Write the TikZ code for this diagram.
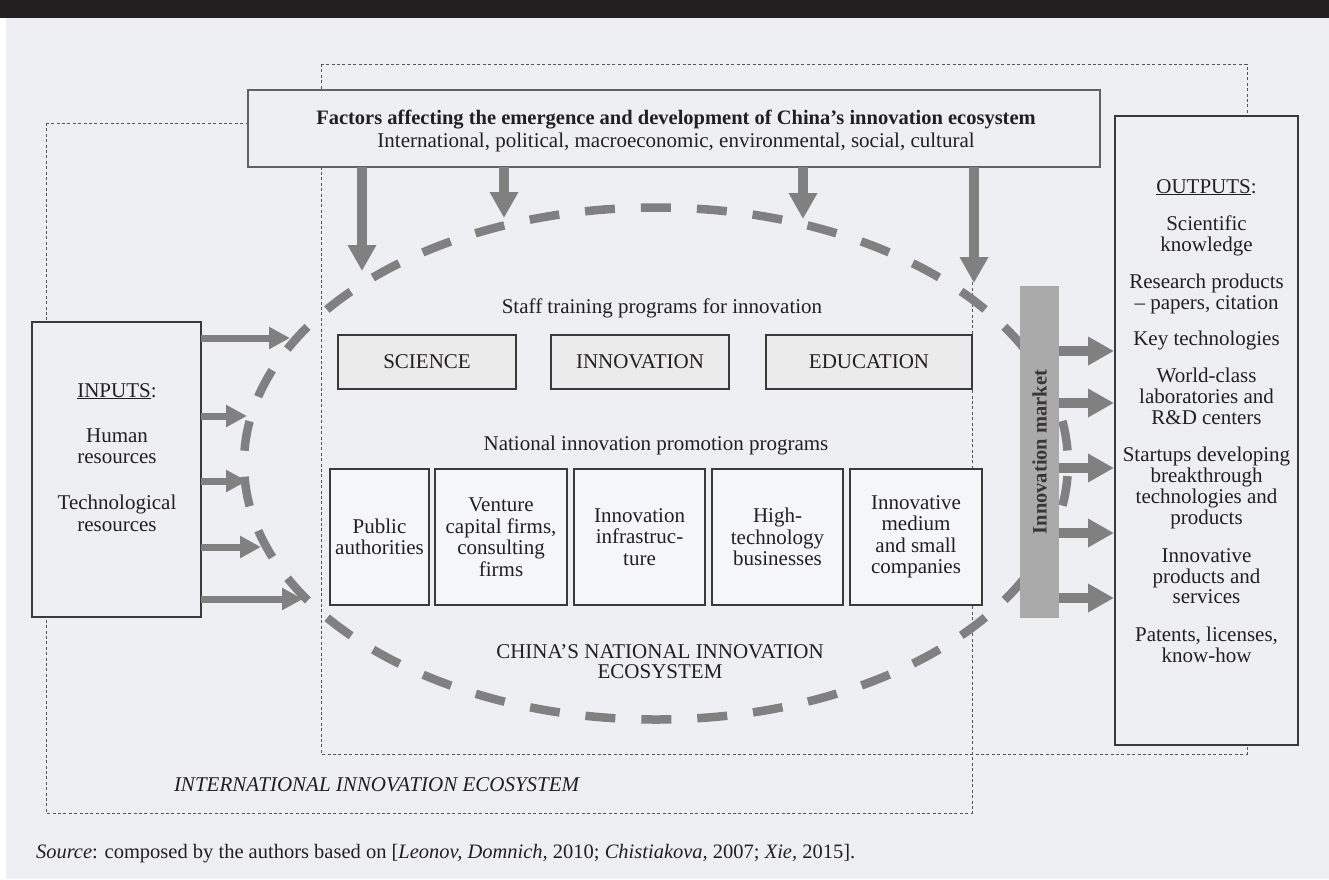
\documentclass[tikz,border=0pt]{standalone}
\usepackage{fontspec}
\setmainfont{Liberation Serif}
\usetikzlibrary{arrows.meta}
\definecolor{bg}{HTML}{EEEFF3}
\definecolor{ink}{HTML}{231F20}
\definecolor{arrowgray}{HTML}{808080}
\definecolor{bargray}{HTML}{AAAAAA}
\definecolor{boxline}{HTML}{3A3A3A}
\definecolor{dotline}{HTML}{555555}
\definecolor{trainfill}{HTML}{EBEBEB}
\definecolor{promofill}{HTML}{F5F6F8}
\begin{document}
\begin{tikzpicture}[x=1pt,y=-1pt,
  every node/.style={text=ink, font=\fontsize{21}{21.5}\selectfont, inner sep=0pt, outer sep=0pt},
  dottedborder/.style={draw=dotline, line width=0.9pt, dash pattern=on 3pt off 2.4pt},
  plainbox/.style={draw=boxline, line width=1.1pt, fill=bg},
  trainbox/.style={draw=boxline, line width=1.1pt, fill=trainfill, minimum height=54pt},
  promobox/.style={draw=boxline, line width=1.1pt, fill=promofill, align=center, minimum height=136pt},
  inarr/.style={draw=arrowgray, line width=7pt, -{Triangle[length=21pt,width=21pt]}},
  bigarr/.style={draw=arrowgray, line width=10pt, -{Triangle[length=26pt,width=27pt]}},
  txtline/.style={anchor=base, align=center}
]
\useasboundingbox (0,0) rectangle (1329,879);
% background
\fill[white] (0,0) rectangle (1329,879);
\fill[bg] (6,18) rectangle (1329,879);
\fill[ink] (0,0) rectangle (1329,18);

% dotted ecosystem frames
\draw[dottedborder] (321,64) rectangle (1247,754);
\draw[dottedborder] (46,123) rectangle (972,813);

% national ecosystem ellipse
\draw[draw=arrowgray, line width=8.5pt, dash pattern=on 30pt off 26pt, dash phase=43pt]
  (656,463.5) ellipse [x radius=412pt, y radius=256pt];

% factors box
\node[plainbox, line width=1.4pt, draw=boxline!80, minimum width=852pt, minimum height=77pt] (factors) at (674,128.5) {};
\node[txtline, font=\fontsize{20.5}{21.5}\selectfont\bfseries] (factitle) at (676,124) {Factors affecting the emergence and development of China’s innovation ecosystem};
\node[txtline] (facsub) at (676,147) {International, political, macroeconomic, environmental, social, cultural};

% arrows from factors
\coordinate (t1) at (362,271);
\coordinate (t2) at (504,218);
\coordinate (t3) at (803,219);
\coordinate (t4) at (974,283);
\foreach \t in {t1,t2,t3,t4}
  \draw[bigarr, line width=9.5pt] (factors.south -| \t) -- (\t);

% inputs
\node[plainbox, minimum width=169pt, minimum height=295pt] (inputs) at (116.5,469.5) {};
\node[txtline] (inhead) at (117,397) {\underline{INPUTS}:};
\foreach \t/\y [count=\i] in {Human/442, resources/463, Technological/509, resources/531}
  \node[txtline] (inl\i) at (117,\y) {\t};

\coordinate (in1) at (290,338);
\coordinate (in2) at (247,416);
\coordinate (in3) at (247,481);
\coordinate (in4) at (261,547);
\coordinate (in5) at (303,599);
\foreach \c in {in1,in2,in3,in4,in5}
  \draw[inarr] (inputs.east |- \c) -- (\c);

% staff training
\node[txtline] (stafft) at (662,313) {Staff training programs for innovation};
\node[trainbox, minimum width=178pt] (science) at (427,362) {SCIENCE};
\node[trainbox, minimum width=178pt] (innov) at (640,362) {INNOVATION};
\node[trainbox, minimum width=206pt] (educ) at (869,362) {EDUCATION};

% promotion programs
\node[txtline] (promot) at (656,450) {National innovation promotion programs};
\node[promobox, minimum width=99pt] (p1) at (379.5,537) {Public\\authorities};
\node[promobox, minimum width=132pt] (p2) at (501,537) {Venture\\capital firms,\\consulting\\firms};
\node[promobox, minimum width=131pt] (p3) at (639.5,537) {Innovation\\infrastruc-\\ture};
\node[promobox, minimum width=131pt] (p4) at (777.5,537) {High-\\technology\\businesses};
\node[promobox, minimum width=132pt] (p5) at (916,537) {Innovative\\medium\\and small\\companies};

% national ecosystem label
\node[txtline] (nat1) at (660,658) {CHINA’S NATIONAL INNOVATION};
\node[txtline] (nat2) at (660,678) {ECOSYSTEM};

% international label
\node[txtline, anchor=base west, font=\fontsize{21}{21.5}\selectfont\itshape] (intl) at (174,791) {INTERNATIONAL INNOVATION ECOSYSTEM};

% innovation market bar
\node[fill=bargray, minimum width=39pt, minimum height=332pt] (market) at (1039.5,452) {};
\node[rotate=90, font=\fontsize{20.5}{21.5}\selectfont\bfseries, text=ink!90] (marketlbl) at (market.center) {Innovation market};

% outputs box
\node[plainbox, minimum width=183pt, minimum height=629pt] (outputs) at (1206.5,430.5) {};

\coordinate (o1) at (1114,351);
\coordinate (o2) at (1114,403);
\coordinate (o3) at (1114,468);
\coordinate (o4) at (1114,533);
\coordinate (o5) at (1114,598);
\foreach \c in {o1,o2,o3,o4,o5}
  \draw[bigarr] (market.east |- \c) -- (\c);

\node[txtline] (outhead) at (1206.5,193) {\underline{OUTPUTS}:};
\foreach \t/\y [count=\i] in {Scientific/230, knowledge/251, Research products/288, {– papers, citation}/309,
  Key technologies/345, World-class/382, laboratories and/403, R\&D centers/424,
  Startups developing/461, breakthrough/482, technologies and/503, products/524,
  Innovative/562, products and/583, services/603, {Patents, licenses,}/641, know-how/662}
  \node[txtline] (outl\i) at (1206.5,\y) {\t};

% source
\node[txtline, anchor=base west, font=\fontsize{20.5}{21}\selectfont] (source) at (36,858)
  {\textit{Source}: composed by the authors based on [\textit{Leonov, Domnich,} 2010; \textit{Chistiakova,} 2007; \textit{Xie,} 2015].};
\end{tikzpicture}
\end{document}
